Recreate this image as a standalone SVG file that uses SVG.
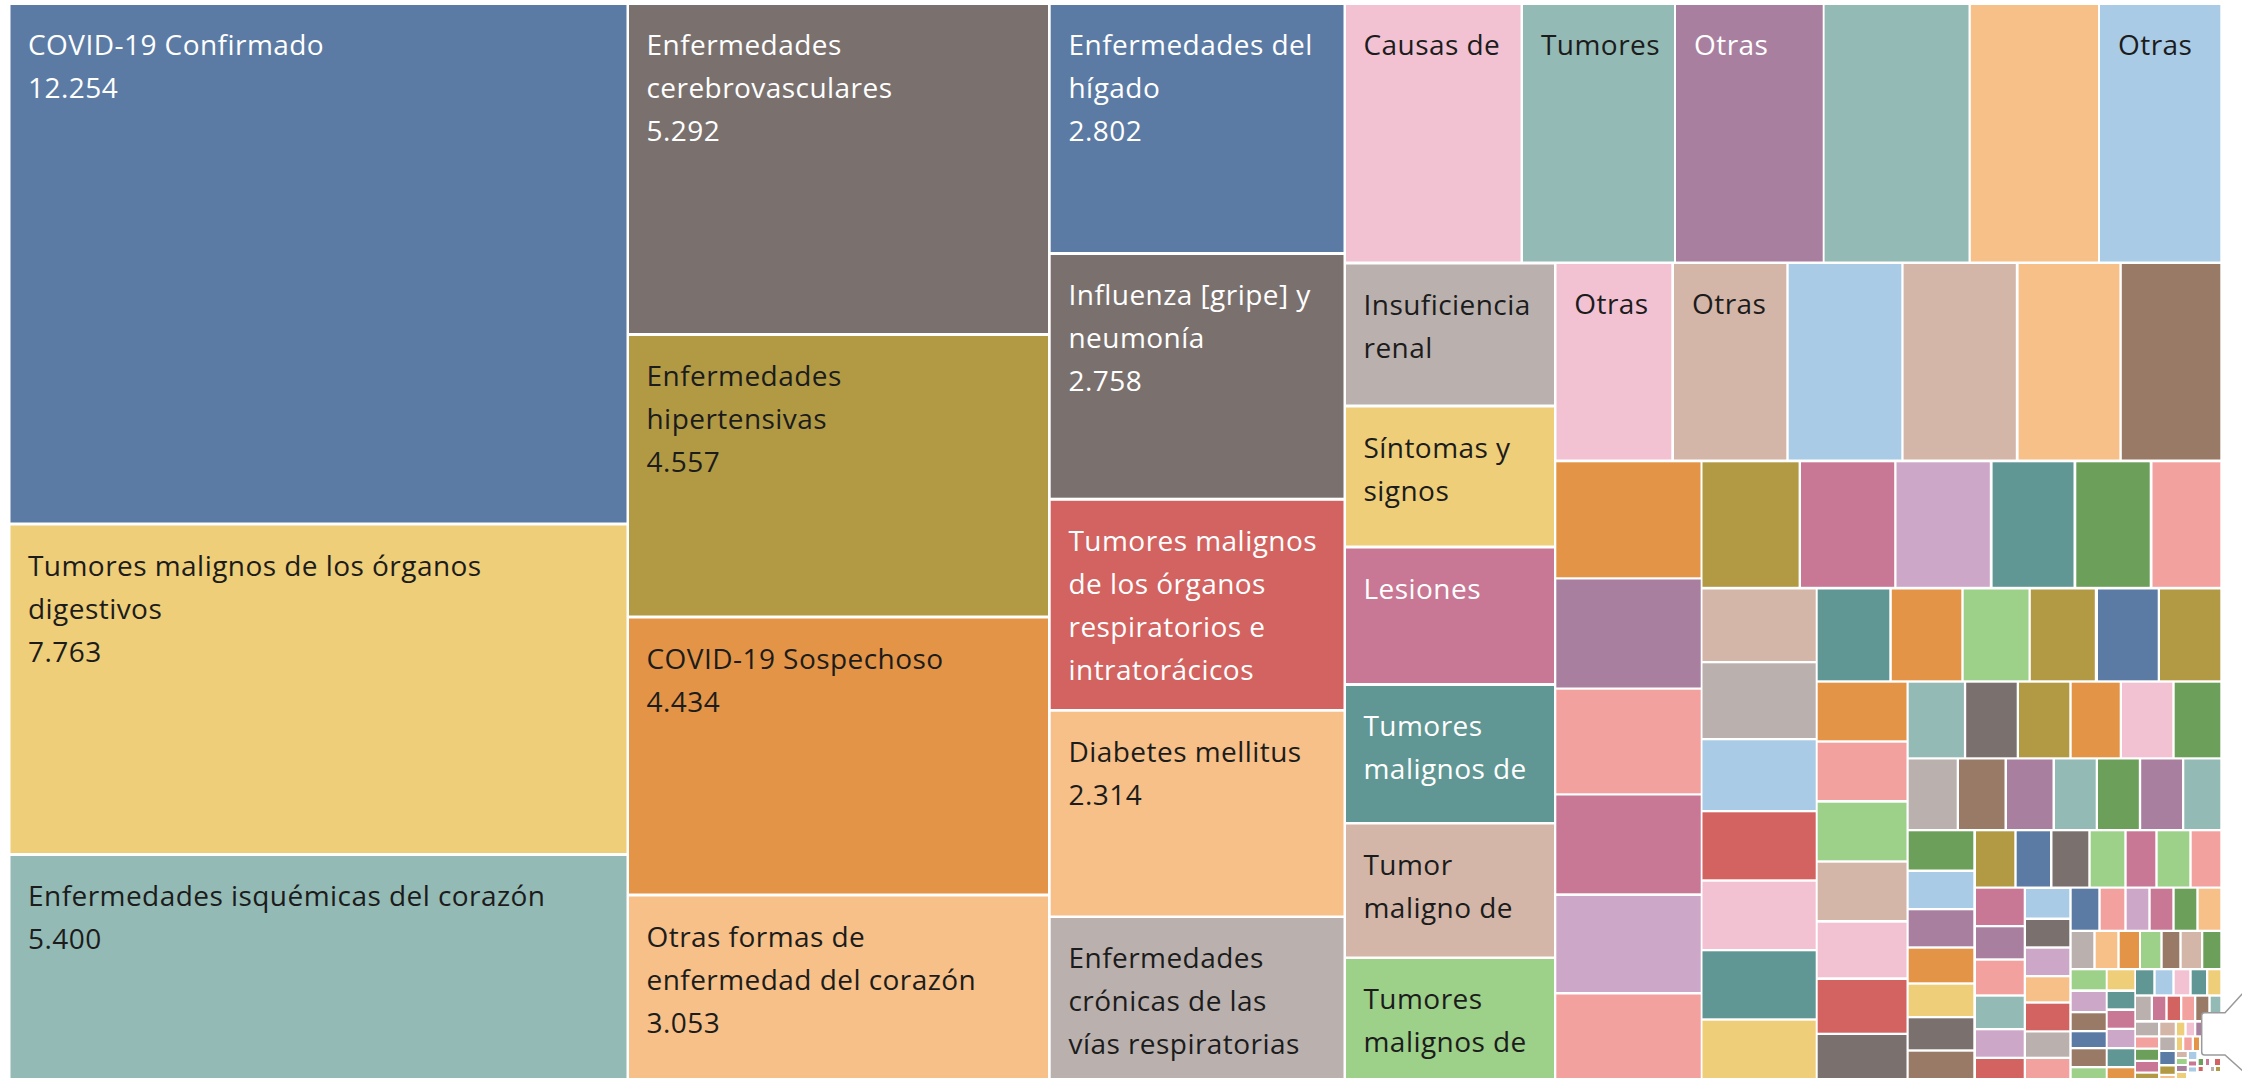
<svg xmlns="http://www.w3.org/2000/svg" width="2242" height="1078" viewBox="0 0 2242 1078">
<style>
text{font-family:"Open Sans","Noto Sans","DejaVu Sans",sans-serif;font-size:28px;letter-spacing:0.45px}
.w{fill:#ffffff}.d{fill:#1c1c1c}
.blue{fill:#5B7BA4}.lblue{fill:#AACBE5}.orange{fill:#E49446}.lorange{fill:#F6C088}
.green{fill:#6C9F59}.lgreen{fill:#9DD089}.olive{fill:#B29A45}.yellow{fill:#EECE78}
.teal{fill:#609794}.lteal{fill:#94BAB5}.red{fill:#D26360}.salmon{fill:#F2A19F}
.gray{fill:#7A716E}.lgray{fill:#BAB1AE}.pink{fill:#C87894}.lpink{fill:#F2C2D3}
.purple{fill:#A97F9F}.lilac{fill:#CDA7C7}.brown{fill:#997A66}.tan{fill:#D3B6A8}
</style>
<rect x="0" y="0" width="2242" height="1078" fill="#ffffff"/>
<g id="connectors"/>
<g id="n1"><rect class="blue" x="10.5" y="5" width="616" height="517.5"/><text class="w"><tspan x="28" y="55">COVID-19 Confirmado</tspan><tspan x="28" y="98">12.254</tspan></text></g>
<g id="n2"><rect class="yellow" x="10.5" y="525.5" width="616" height="327.5"/><text class="d"><tspan x="28" y="575.5">Tumores malignos de los órganos</tspan><tspan x="28" y="618.5">digestivos</tspan><tspan x="28" y="661.5">7.763</tspan></text></g>
<g id="n3"><rect class="lteal" x="10.5" y="856" width="616" height="222"/><text class="d"><tspan x="28" y="906">Enfermedades isquémicas del corazón</tspan><tspan x="28" y="949">5.400</tspan></text></g>
<g id="n4"><rect class="gray" x="629" y="5" width="419" height="328"/><text class="w"><tspan x="646.5" y="55">Enfermedades</tspan><tspan x="646.5" y="98">cerebrovasculares</tspan><tspan x="646.5" y="141">5.292</tspan></text></g>
<g id="n5"><rect class="olive" x="629" y="336" width="419" height="279.5"/><text class="d"><tspan x="646.5" y="386">Enfermedades</tspan><tspan x="646.5" y="429">hipertensivas</tspan><tspan x="646.5" y="472">4.557</tspan></text></g>
<g id="n6"><rect class="orange" x="629" y="618.5" width="419" height="275"/><text class="d"><tspan x="646.5" y="668.5">COVID-19 Sospechoso</tspan><tspan x="646.5" y="711.5">4.434</tspan></text></g>
<g id="n7"><rect class="lorange" x="629" y="896.5" width="419" height="181.5"/><text class="d"><tspan x="646.5" y="946.5">Otras formas de</tspan><tspan x="646.5" y="989.5">enfermedad del corazón</tspan><tspan x="646.5" y="1032.5">3.053</tspan></text></g>
<g id="n8"><rect class="blue" x="1050.7" y="5" width="292.8" height="247"/><text class="w"><tspan x="1068.5" y="55">Enfermedades del</tspan><tspan x="1068.5" y="98">hígado</tspan><tspan x="1068.5" y="141">2.802</tspan></text></g>
<g id="n9"><rect class="gray" x="1050.7" y="255" width="292.8" height="242.7"/><text class="w"><tspan x="1068.5" y="305">Influenza [gripe] y</tspan><tspan x="1068.5" y="348">neumonía</tspan><tspan x="1068.5" y="391">2.758</tspan></text></g>
<g id="n10"><rect class="red" x="1050.7" y="500.8" width="292.8" height="208.2"/><text class="w"><tspan x="1068.5" y="550.8">Tumores malignos</tspan><tspan x="1068.5" y="593.8">de los órganos</tspan><tspan x="1068.5" y="636.8">respiratorios e</tspan><tspan x="1068.5" y="679.8">intratorácicos</tspan></text></g>
<g id="n11"><rect class="lorange" x="1050.7" y="711.7" width="292.8" height="203.8"/><text class="d"><tspan x="1068.5" y="761.7">Diabetes mellitus</tspan><tspan x="1068.5" y="804.7">2.314</tspan></text></g>
<g id="n12"><rect class="lgray" x="1050.7" y="918" width="292.8" height="160"/><text class="d"><tspan x="1068.5" y="968">Enfermedades</tspan><tspan x="1068.5" y="1011">crónicas de las</tspan><tspan x="1068.5" y="1054">vías respiratorias</tspan></text></g>
<g id="n13"><rect class="lpink" x="1346" y="5" width="174.5" height="256.5"/><text class="d" x="1363.5" y="55">Causas de</text></g>
<g id="n14"><rect class="lgray" x="1346" y="264.5" width="208" height="140"/><text class="d"><tspan x="1363.5" y="314.5">Insuficiencia</tspan><tspan x="1363.5" y="357.5">renal</tspan></text></g>
<g id="n15"><rect class="yellow" x="1346" y="407.5" width="208" height="138"/><text class="d"><tspan x="1363.5" y="457.5">Síntomas y</tspan><tspan x="1363.5" y="500.5">signos</tspan></text></g>
<g id="n16"><rect class="pink" x="1346" y="548.5" width="208" height="134.5"/><text class="w" x="1363.5" y="598.5">Lesiones</text></g>
<g id="n17"><rect class="teal" x="1346" y="686" width="208" height="136"/><text class="w"><tspan x="1363.5" y="736">Tumores</tspan><tspan x="1363.5" y="779">malignos de</tspan></text></g>
<g id="n18"><rect class="tan" x="1346" y="824.5" width="208" height="132"/><text class="d"><tspan x="1363.5" y="874.5">Tumor</tspan><tspan x="1363.5" y="917.5">maligno de</tspan></text></g>
<g id="n19"><rect class="lgreen" x="1346" y="959" width="208" height="119"/><text class="d"><tspan x="1363.5" y="1009">Tumores</tspan><tspan x="1363.5" y="1052">malignos de</tspan></text></g>
<g id="n20"><rect class="lteal" x="1523" y="5" width="151" height="256.5"/><text class="d" x="1541" y="55">Tumores</text></g>
<g id="n21"><rect class="purple" x="1676" y="5" width="146.7" height="256.5"/><text class="w" x="1694" y="55">Otras</text></g>
<g id="n22"><rect class="lteal" x="1824.6" y="5" width="143.9" height="256.5"/></g>
<g id="n23"><rect class="lorange" x="1970.8" y="5" width="127.2" height="256.5"/></g>
<g id="n24"><rect class="lblue" x="2100" y="5" width="120.3" height="256.5"/><text class="d" x="2118" y="55">Otras</text></g>
<g id="n25"><rect class="lpink" x="1556.5" y="264" width="114.8" height="195.5"/><text class="d" x="1574.3" y="314">Otras</text></g>
<g id="n26"><rect class="tan" x="1674" y="264" width="112.3" height="195.5"/><text class="d" x="1692" y="314">Otras</text></g>
<g id="n27"><rect class="lblue" x="1788.7" y="264" width="112.6" height="195.5"/></g>
<g id="n28"><rect class="tan" x="1903.6" y="264" width="112.2" height="195.5"/></g>
<g id="n29"><rect class="lorange" x="2018.6" y="264" width="100.8" height="195.5"/></g>
<g id="n30"><rect class="brown" x="2121.8" y="264" width="98.5" height="195.5"/></g>
<g id="n31"><rect class="orange" x="1556.3" y="462.3" width="144.2" height="115"/></g>
<g id="n32"><rect class="olive" x="1702.5" y="462.3" width="96.1" height="124.5"/></g>
<g id="n33"><rect class="pink" x="1801" y="462.3" width="93.2" height="124.5"/></g>
<g id="n34"><rect class="lilac" x="1896.5" y="462.3" width="93.3" height="124.5"/></g>
<g id="n35"><rect class="teal" x="1992.6" y="462.3" width="80.9" height="124.5"/></g>
<g id="n36"><rect class="green" x="2076.3" y="462.3" width="73.4" height="124.5"/></g>
<g id="n37"><rect class="salmon" x="2152.5" y="462.3" width="67.8" height="124.5"/></g>
<g id="n38"><rect class="purple" x="1556.3" y="579.5" width="144.4" height="108"/></g>
<g id="n39"><rect class="salmon" x="1556.3" y="689.7" width="144.4" height="103.6"/></g>
<g id="n40"><rect class="pink" x="1556.3" y="795.5" width="144.4" height="97.8"/></g>
<g id="n41"><rect class="lilac" x="1556.3" y="896" width="144.4" height="96"/></g>
<g id="n42"><rect class="salmon" x="1556.3" y="994.5" width="144.4" height="83.5"/></g>
<g id="n43"><rect class="tan" x="1702.5" y="589.5" width="113.2" height="71.5"/></g>
<g id="n44"><rect class="lgray" x="1702.5" y="663.3" width="113.2" height="74.7"/></g>
<g id="n45"><rect class="lblue" x="1702.5" y="740.3" width="113.2" height="69.7"/></g>
<g id="n46"><rect class="red" x="1702.5" y="812.3" width="113.2" height="67"/></g>
<g id="n47"><rect class="lpink" x="1702.5" y="881.7" width="113.2" height="67.3"/></g>
<g id="n48"><rect class="teal" x="1702.5" y="951.3" width="113.2" height="67"/></g>
<g id="n49"><rect class="yellow" x="1702.5" y="1020.7" width="113.2" height="57.3"/></g>
<g id="n50"><rect class="teal" x="1817.7" y="589.5" width="71.6" height="90.8"/></g>
<g id="n51"><rect class="orange" x="1891.8" y="589.5" width="69.5" height="90.8"/></g>
<g id="n52"><rect class="lgreen" x="1963.7" y="589.5" width="64.8" height="90.8"/></g>
<g id="n53"><rect class="olive" x="2030.8" y="589.5" width="64" height="90.8"/></g>
<g id="n54"><rect class="blue" x="2098" y="589.5" width="59.7" height="90.8"/></g>
<g id="n55"><rect class="olive" x="2160" y="589.5" width="60.3" height="90.8"/></g>
<g id="n56"><rect class="orange" x="1817.7" y="682.7" width="88.8" height="57.6"/></g>
<g id="n57"><rect class="salmon" x="1817.7" y="742.7" width="88.8" height="57.3"/></g>
<g id="n58"><rect class="lgreen" x="1817.7" y="802.7" width="88.8" height="57.6"/></g>
<g id="n59"><rect class="tan" x="1817.7" y="862.7" width="88.8" height="57.3"/></g>
<g id="n60"><rect class="lpink" x="1817.7" y="922.7" width="88.8" height="54.6"/></g>
<g id="n61"><rect class="red" x="1817.7" y="980" width="88.8" height="52.7"/></g>
<g id="n62"><rect class="gray" x="1817.7" y="1035" width="88.8" height="43"/></g>
<g id="n63"><rect class="lteal" x="1908.7" y="682.7" width="55.2" height="74.6"/></g>
<g id="n64"><rect class="gray" x="1966.2" y="682.7" width="50.5" height="74.6"/></g>
<g id="n65"><rect class="olive" x="2019" y="682.7" width="50.3" height="74.6"/></g>
<g id="n66"><rect class="orange" x="2071.7" y="682.7" width="48" height="74.6"/></g>
<g id="n67"><rect class="lpink" x="2122" y="682.7" width="50.3" height="74.6"/></g>
<g id="n68"><rect class="green" x="2174.7" y="682.7" width="45.6" height="74.6"/></g>
<g id="n69"><rect class="lgray" x="1908.7" y="759.5" width="48" height="69.5"/></g>
<g id="n70"><rect class="brown" x="1959" y="759.5" width="45.5" height="69.5"/></g>
<g id="n71"><rect class="purple" x="2007" y="759.5" width="45.5" height="69.5"/></g>
<g id="n72"><rect class="lteal" x="2055" y="759.5" width="40.7" height="69.5"/></g>
<g id="n73"><rect class="green" x="2098" y="759.5" width="40.8" height="69.5"/></g>
<g id="n74"><rect class="purple" x="2141.2" y="759.5" width="40.8" height="69.5"/></g>
<g id="n75"><rect class="lteal" x="2184.3" y="759.5" width="36" height="69.5"/></g>
<g id="n76"><rect class="green" x="1908.7" y="831.3" width="64.6" height="38.2"/></g>
<g id="n77"><rect class="olive" x="1976" y="831.3" width="38.3" height="55.2"/></g>
<g id="n78"><rect class="blue" x="2016.7" y="831.3" width="33.3" height="55.2"/></g>
<g id="n79"><rect class="gray" x="2052.5" y="831.3" width="35.8" height="55.2"/></g>
<g id="n80"><rect class="lgreen" x="2090.7" y="831.3" width="33.6" height="55.2"/></g>
<g id="n81"><rect class="pink" x="2126.7" y="831.3" width="28.6" height="55.2"/></g>
<g id="n82"><rect class="lgreen" x="2157.7" y="831.3" width="31.6" height="55.2"/></g>
<g id="n83"><rect class="salmon" x="2191.7" y="831.3" width="28.6" height="55.2"/></g>
<g id="n84"><rect class="lblue" x="1908.7" y="872" width="64.6" height="36"/></g>
<g id="n85"><rect class="purple" x="1908.7" y="910.3" width="64.6" height="36"/></g>
<g id="n86"><rect class="orange" x="1908.7" y="948.7" width="64.6" height="33.6"/></g>
<g id="n87"><rect class="yellow" x="1908.7" y="984.7" width="64.6" height="31.3"/></g>
<g id="n88"><rect class="gray" x="1908.7" y="1018.3" width="64.6" height="31"/></g>
<g id="n89"><rect class="brown" x="1908.7" y="1051.7" width="64.6" height="26.3"/></g>
<g id="n90"><rect class="pink" x="1976" y="888.7" width="47.7" height="36.3"/></g>
<g id="n91"><rect class="purple" x="1976" y="927.3" width="47.7" height="31"/></g>
<g id="n92"><rect class="salmon" x="1976" y="960.7" width="47.7" height="33.6"/></g>
<g id="n93"><rect class="lteal" x="1976" y="996.7" width="47.7" height="31.3"/></g>
<g id="n94"><rect class="lilac" x="1976" y="1030.3" width="47.7" height="26.4"/></g>
<g id="n95"><rect class="red" x="1976" y="1059" width="47.7" height="19"/></g>
<g id="n96"><rect class="lblue" x="2026" y="889" width="43.3" height="28.5"/></g>
<g id="n97"><rect class="gray" x="2026" y="920" width="43.3" height="26.3"/></g>
<g id="n98"><rect class="lilac" x="2026" y="948.7" width="43.3" height="26.3"/></g>
<g id="n99"><rect class="lorange" x="2026" y="977.3" width="43.3" height="24"/></g>
<g id="n100"><rect class="red" x="2026" y="1003.7" width="43.3" height="26.6"/></g>
<g id="n101"><rect class="lgray" x="2026" y="1032.5" width="43.3" height="24.2"/></g>
<g id="n102"><rect class="salmon" x="2026" y="1059" width="43.3" height="19"/></g>
<g id="n103"><rect class="blue" x="2071.7" y="888.7" width="26.6" height="41"/></g>
<g id="n104"><rect class="salmon" x="2100.7" y="888.7" width="23.6" height="41"/></g>
<g id="n105"><rect class="lilac" x="2126.7" y="888.7" width="21.6" height="41"/></g>
<g id="n106"><rect class="pink" x="2150.7" y="888.7" width="21.6" height="41"/></g>
<g id="n107"><rect class="green" x="2174.7" y="888.7" width="21.6" height="41"/></g>
<g id="n108"><rect class="lorange" x="2198.7" y="888.7" width="21.6" height="41"/></g>
<g id="n109"><rect class="lgray" x="2071.7" y="932" width="21.6" height="36"/></g>
<g id="n110"><rect class="lorange" x="2095.7" y="932" width="21.6" height="36"/></g>
<g id="n111"><rect class="orange" x="2119.7" y="932" width="19.3" height="36"/></g>
<g id="n112"><rect class="lgreen" x="2141" y="932" width="19.3" height="36"/></g>
<g id="n113"><rect class="brown" x="2162.7" y="932" width="16.6" height="36"/></g>
<g id="n114"><rect class="tan" x="2181.7" y="932" width="19.3" height="36"/></g>
<g id="n115"><rect class="green" x="2203.3" y="932" width="17" height="36"/></g>
<g id="n116"><rect class="lgreen" x="2071.7" y="970.3" width="34" height="19"/></g>
<g id="n117"><rect class="lilac" x="2071.7" y="992" width="34" height="19"/></g>
<g id="n118"><rect class="brown" x="2071.7" y="1013.3" width="34" height="16.7"/></g>
<g id="n119"><rect class="blue" x="2071.7" y="1032.3" width="34" height="14.7"/></g>
<g id="n120"><rect class="brown" x="2071.7" y="1049.3" width="34" height="16.7"/></g>
<g id="n121"><rect class="lgreen" x="2071.7" y="1068.3" width="34" height="9.7"/></g>
<g id="n122"><rect class="yellow" x="2107.7" y="970.3" width="26.6" height="19"/></g>
<g id="n123"><rect class="teal" x="2107.7" y="992" width="26.6" height="16.3"/></g>
<g id="n124"><rect class="pink" x="2107.7" y="1011" width="26.6" height="16.7"/></g>
<g id="n125"><rect class="lilac" x="2107.7" y="1030" width="26.6" height="17"/></g>
<g id="n126"><rect class="teal" x="2107.7" y="1049.3" width="26.6" height="16.7"/></g>
<g id="n127"><rect class="orange" x="2107.7" y="1068.3" width="26.6" height="9.7"/></g>
<g id="n128"><rect class="teal" x="2136" y="970.3" width="17.3" height="24"/></g>
<g id="n129"><rect class="lblue" x="2155.7" y="970.3" width="16.6" height="24"/></g>
<g id="n130"><rect class="lpink" x="2174.7" y="970.3" width="14.6" height="24"/></g>
<g id="n131"><rect class="teal" x="2191.7" y="970.3" width="14.3" height="24"/></g>
<g id="n132"><rect class="yellow" x="2208.3" y="970.3" width="12" height="24"/></g>
<g id="n133"><rect class="lgray" x="2136" y="996.7" width="14.7" height="23.3"/></g>
<g id="n134"><rect class="pink" x="2153" y="996.7" width="12.3" height="23.3"/></g>
<g id="n135"><rect class="red" x="2167.7" y="996.7" width="12.3" height="23.3"/></g>
<g id="n136"><rect class="salmon" x="2182.3" y="996.7" width="11.7" height="23.3"/></g>
<g id="n137"><rect class="brown" x="2196.3" y="996.7" width="12" height="23.3"/></g>
<g id="n138"><rect class="lteal" x="2210.7" y="996.7" width="9.6" height="23.3"/></g>
<g id="n139"><rect class="lgray" x="2136" y="1022.7" width="22" height="12.6"/></g>
<g id="n140"><rect class="tan" x="2160.3" y="1022.7" width="14.4" height="12.6"/></g>
<g id="n141"><rect class="yellow" x="2177" y="1022.7" width="7.3" height="12.6"/></g>
<g id="n142"><rect class="lpink" x="2186.7" y="1022.7" width="7.3" height="12.6"/></g>
<g id="n143"><rect class="purple" x="2196.3" y="1022.7" width="6" height="12.6"/></g>
<g id="n144"><rect class="salmon" x="2136" y="1037.5" width="22" height="10"/></g>
<g id="n145"><rect class="lgray" x="2160.3" y="1037.5" width="14.4" height="12.5"/></g>
<g id="n146"><rect class="yellow" x="2177" y="1037.5" width="5" height="12.5"/></g>
<g id="n147"><rect class="salmon" x="2184.3" y="1037.5" width="7.4" height="12.5"/></g>
<g id="n148"><rect class="orange" x="2194" y="1037.5" width="5" height="12.5"/></g>
<g id="n149"><rect class="green" x="2136" y="1049.8" width="22" height="10"/></g>
<g id="n150"><rect class="blue" x="2160.3" y="1052" width="14.4" height="12"/></g>
<g id="n151"><rect class="tan" x="2177" y="1052" width="9.7" height="5"/></g>
<g id="n152"><rect class="lgreen" x="2177" y="1059" width="9.7" height="5"/></g>
<g id="n153"><rect class="lblue" x="2189" y="1052" width="7.3" height="7"/></g>
<g id="n154"><rect class="pink" x="2136" y="1062" width="22" height="9.5"/></g>
<g id="n155"><rect class="olive" x="2160.3" y="1066.5" width="14.4" height="7.3"/></g>
<g id="n156"><rect class="purple" x="2177" y="1066" width="9.7" height="5"/></g>
<g id="n157"><rect class="olive" x="2136" y="1073.7" width="22" height="4.3"/></g>
<g id="n158"><rect class="lorange" x="2160.3" y="1076" width="14.4" height="2"/></g>
<g id="n159"><rect class="green" x="2198.7" y="1059" width="4.3" height="6"/></g>
<g id="n160"><rect class="pink" x="2206" y="1059" width="3" height="6"/></g>
<g id="n161"><rect class="red" x="2215" y="1059" width="5" height="6"/></g>
<g id="n162"><rect class="pink" x="2189" y="1061.5" width="7" height="4"/></g>
<g id="n163"><rect class="red" x="2198.7" y="1067" width="4" height="4"/></g>
<g id="n164"><rect class="lgray" x="2211" y="1067" width="3" height="4"/></g>
<g id="n165"><rect class="olive" x="2216" y="1067" width="4" height="4"/></g>
<g id="n166"><rect class="lblue" x="2189" y="1067.5" width="7" height="4"/></g>
<g id="n167"><rect class="yellow" x="2177" y="1073" width="9" height="5"/></g>
<g id="callout"><path d="M2204.5,1012.7 H2225 L2244,992 V1072 L2225,1055 H2204.5 Q2201.7,1055 2201.7,1052 V1015.5 Q2201.7,1012.7 2204.5,1012.7 Z" fill="#ffffff" stroke="#9a9a9a" stroke-width="1.5"/></g>
</svg>
